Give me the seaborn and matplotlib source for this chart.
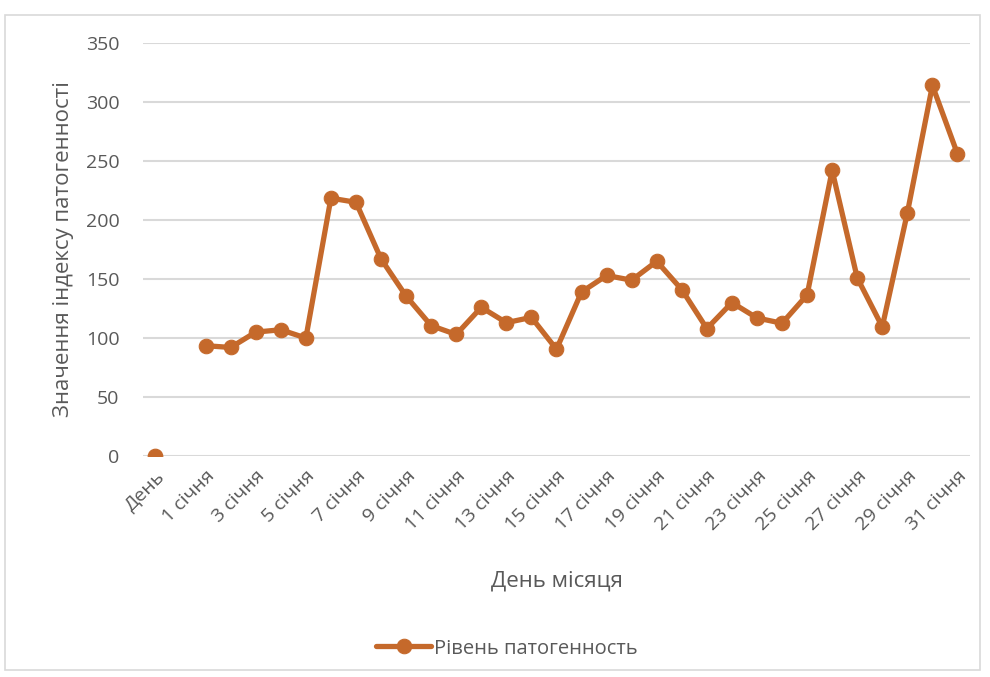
import numpy as np
import pandas as pd
import matplotlib
matplotlib.use("Agg")
import matplotlib.pyplot as plt
import seaborn as sns
from matplotlib.patches import Rectangle

# category axis: "День", one empty slot, then 1..31 січня
labels = ["День", ""] + [f"{d} січня" for d in range(1, 32)]

head_value = 0  # value shown at "День"
day_values = [93.5, 92, 105, 107, 100, 218.5, 215, 167, 135.5, 110.5,
              103, 126, 113, 117.5, 90.5, 139, 153, 149, 165, 141,
              108, 130, 117, 112.5, 136.5, 242, 151, 109.5, 206, 314, 256]

series_name = "Рівень патогенность"
color = "#C5692B"

sns.set_style("white")
plt.rcParams['font.family'] = ['Open Sans', 'DejaVu Sans']

df = pd.DataFrame({"pos": np.arange(2, 2 + len(day_values)),
                   "value": day_values,
                   "series": series_name})

fig = plt.figure(figsize=(9.9, 6.77), dpi=100)
ax = fig.add_axes([0.1444, 0.3264, 0.8354, 0.6101])

sns.lineplot(data=df, x="pos", y="value", ax=ax, color=color,
             linewidth=3.8, marker="o", markersize=10.5,
             markeredgecolor=color, label=series_name)
sns.scatterplot(x=[0], y=[head_value], ax=ax, color=color, s=110,
                edgecolor=color, legend=False, zorder=3)

ax.set_xlim(-0.5, len(labels) - 0.5)
ax.set_ylim(0, 350)
ax.set_yticks(range(0, 351, 50))
ax.yaxis.grid(True, color="#D9D9D9", linewidth=1.5)
ax.set_axisbelow(True)
for s in ax.spines.values():
    s.set_visible(False)

ticks = list(range(0, len(labels), 2))
ax.set_xticks(ticks)
ax.set_xticklabels([labels[i] for i in ticks], rotation=45, ha="right",
                   rotation_mode="anchor", fontsize=14, color="#595959")
ax.tick_params(axis="y", labelsize=14, colors="#595959", length=0, pad=17)
ax.tick_params(axis="x", length=0, pad=8)

ax.set_xlabel("День місяця", fontsize=16, color="#595959", labelpad=26)
ax.set_ylabel("Значення індексу патогенності", fontsize=16,
              color="#595959", labelpad=8)

leg = ax.legend(loc="center", bbox_to_anchor=(0.44, -0.466), frameon=False,
                fontsize=14.5, handlelength=2.7, handletextpad=0.15)
for t in leg.get_texts():
    t.set_color("#595959")

fig.patches.append(Rectangle((5 / 990, 7 / 677), 975 / 990, 655 / 677,
                             transform=fig.transFigure, fill=False,
                             edgecolor="#D9D9D9", linewidth=1.2))

fig.savefig("out.png", dpi=100)
